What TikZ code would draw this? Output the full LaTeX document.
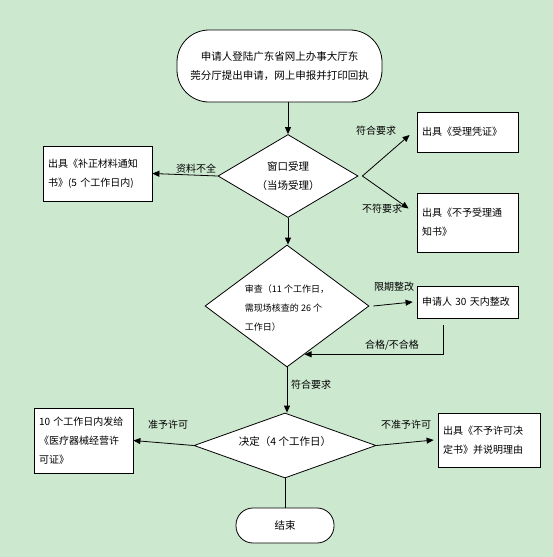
\documentclass[tikz,border=0pt]{standalone}
\usepackage{fontspec}
\setmainfont{Noto Sans CJK SC}
\usetikzlibrary{shapes.geometric,arrows.meta}
\definecolor{bg}{HTML}{CCE8CF}
\begin{document}
\begin{tikzpicture}[x=1pt,y=-1pt,
  line width=0.8pt,
  arr/.style={-{Triangle[length=7pt,width=6pt]}},
  txt/.style={font=\fontsize{10.5}{19}\selectfont},
  box/.style={draw,fill=white,font=\fontsize{10}{19}\selectfont,align=left,inner xsep=5pt,inner ysep=0pt},
  term/.style={draw,fill=white,txt,align=center,inner sep=0pt},
  dia/.style={draw,fill=white,diamond,inner sep=0pt},
  lab/.style={font=\fontsize{10}{12}\selectfont,inner sep=1pt}
]
\fill[bg] (0,0) rectangle (553,557);
\useasboundingbox (0,0) rectangle (553,557);

% terminals
\node[term,minimum width=205pt,minimum height=72pt,rounded corners=32pt] (s) at (279.5,66)
  {申请人登陆广东省网上办事大厅东\\莞分厅提出申请，网上申报并打印回执};
\node[term,minimum width=98pt,minimum height=35pt,rounded corners=17pt] (e) at (285,525.5) {结束};

% diamonds
\node[dia,minimum width=140pt,minimum height=83pt] (d1) at (288,176) {};
\node[txt,align=center,inner sep=0pt] (t1) at (d1.center) {窗口受理\\（当场受理）};
\node[dia,minimum width=164pt,minimum height=122pt] (d2) at (287,306) {};
\node[font=\fontsize{9}{19}\selectfont,align=left,inner sep=0pt] (t2) at (287,308)
  {审查（11~个工作日，\\需现场核查的~26~个\\工作日）};
\node[dia,minimum width=182pt,minimum height=65pt] (d3) at (285,445.5) {};
\node[txt,inner sep=0pt] (t3) at (285,442) {决定（4~个工作日）};

% boxes
\node[box,text width=99pt,minimum height=55pt] (bz) at (97.5,173.5)
  {出具《补正材料通知\\书》(5~个工作日内)};
\node[box,text width=91pt,minimum height=40pt] (sl) at (467.5,132) {出具《受理凭证》};
\node[box,text width=91pt,minimum height=59pt] (bsl) at (467.5,222.5)
  {出具《不予受理通\\知书》};
\node[box,text width=91pt,minimum height=32pt] (zg) at (467.5,302) {申请人~30~天内整改};
\node[box,text width=89pt,minimum height=65pt] (xk) at (83.5,440.5)
  {10~个工作日内发给\\《医疗器械经营许\\可证》};
\node[box,text width=92pt,minimum height=54pt] (bxk) at (489,440)
  {出具《不予许可决\\定书》并说明理由};

% connectors
\draw[arr] (d1.north |- s.south) -- (d1.north);
\draw[arr] (d1.west) -- (bz.east);
\draw[arr] ([xshift=4pt]d1.east) -- ([xshift=-7pt,yshift=-3pt]sl.west);
\draw[arr] ([xshift=4pt]d1.east) -- ([xshift=-8pt,yshift=14pt]bsl.west);
\draw[arr] (d1.south) -- (d1.south |- d2.north);
\draw[arr] ([xshift=4pt]d2.east) -- ([xshift=-4pt]zg.west);
\coordinate (rt) at (443,325);
\draw[arr] (rt) |- (d2.-70);
\draw[arr] (d2.south) -- (d2.south |- d3.north);
\draw[arr] (d3.west) -- (xk.east);
\draw[arr] (d3.east) -- ([xshift=-4pt]bxk.west);
\draw (d3.south) -- (e.north);

% labels
\node[lab] (l1) at (196,169) {资料不全};
\node[lab] (l2) at (376,131) {符合要求};
\node[lab] (l3) at (382,209) {不符要求};
\node[lab] (l4) at (394,287) {限期整改};
\node[lab] (l5) at (392,345) {合格/不合格};
\node[lab] (l6) at (311,385) {符合要求};
\node[lab] (l7) at (168,425) {准予许可};
\node[lab] (l8) at (406,425) {不准予许可};
\end{tikzpicture}
\end{document}
